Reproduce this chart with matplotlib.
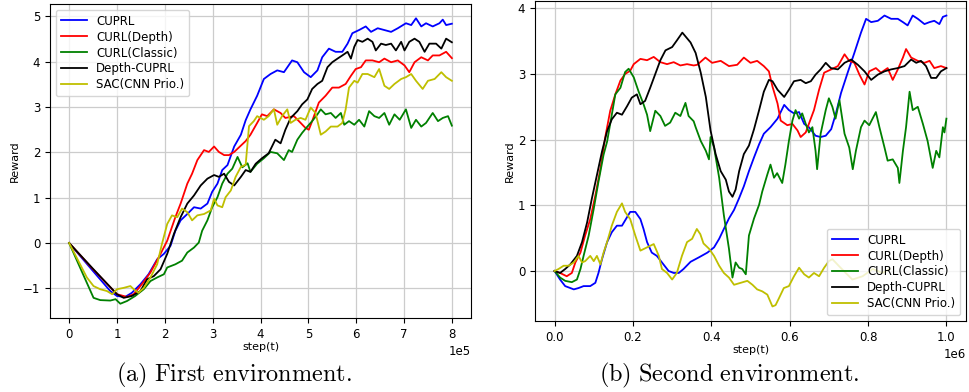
import matplotlib
matplotlib.use("Agg")
import matplotlib.pyplot as plt
import numpy as np

# ---------------- panel (a): first environment, steps in 1e5 ----------------
labels = ["CUPRL", "CURL(Depth)", "CURL(Classic)", "Depth-CUPRL", "SAC(CNN Prio.)"]
colors = ["b", "r", "g", "k", "y"]

a_cuprl_x = [0, 0.5, 0.86, 1.0, 1.17, 1.31, 1.49, 1.66, 1.84, 1.98, 2.12, 2.22, 2.33, 2.47,
             2.61, 2.75, 2.89, 2.99, 3.1, 3.2, 3.31, 3.45, 3.59, 3.69, 3.79, 3.93, 4.07,
             4.21, 4.35, 4.49, 4.66, 4.77, 4.91, 5.05, 5.19, 5.29, 5.43, 5.57, 5.71, 5.82,
             5.92, 6.06, 6.2, 6.31, 6.45, 6.59, 6.73, 6.87, 7.04, 7.15, 7.25, 7.36, 7.46,
             7.6, 7.74, 7.81, 7.88, 8.0]
a_cuprl_y = [0, -0.62, -1.06, -1.17, -1.19, -1.1, -0.91, -0.69, -0.36, -0.24, -0.06, 0.27,
             0.5, 0.64, 0.79, 0.76, 0.87, 1.13, 1.31, 1.61, 1.72, 2.13, 2.39, 2.71, 2.95,
             3.25, 3.62, 3.73, 3.81, 3.77, 4.03, 3.99, 3.77, 3.66, 3.81, 4.1, 4.29, 4.22,
             4.22, 4.4, 4.63, 4.7, 4.78, 4.66, 4.74, 4.7, 4.66, 4.74, 4.85, 4.81, 4.96,
             4.78, 4.85, 4.78, 4.85, 4.93, 4.81, 4.84]

a_depth_x = [0, 0.5, 1.0, 1.21, 1.35, 1.52, 1.7, 1.91, 2.05, 2.22, 2.33, 2.47, 2.57, 2.68,
             2.82, 2.92, 3.03, 3.13, 3.24, 3.34, 3.45, 3.59, 3.69, 3.79, 3.93, 4.03, 4.14,
             4.28, 4.42, 4.52, 4.7, 4.84, 4.94, 5.01, 5.08, 5.22, 5.36, 5.5, 5.64, 5.78,
             5.89, 5.99, 6.1, 6.2, 6.34, 6.48, 6.59, 6.73, 6.87, 7.01, 7.11, 7.22, 7.36,
             7.5, 7.6, 7.74, 7.88, 8.0]
a_depth_y = [0, -0.58, -1.13, -1.19, -1.13, -0.91, -0.65, -0.24, 0.05, 0.57, 0.87, 1.31,
             1.53, 1.83, 2.05, 2.01, 2.13, 2.01, 1.94, 1.94, 2.01, 2.15, 2.25, 2.39, 2.65,
             2.84, 2.8, 2.95, 2.87, 2.76, 2.8, 2.65, 2.54, 2.5, 2.69, 3.1, 3.25, 3.43, 3.43,
             3.51, 3.69, 3.84, 3.88, 4.03, 4.03, 3.99, 4.07, 3.99, 4.03, 3.92, 3.77, 3.99,
             4.1, 4.03, 4.14, 4.14, 4.22, 4.08]

a_classic_x = [0, 0.51, 0.65, 0.86, 0.97, 1.07, 1.21, 1.38, 1.56, 1.7, 1.84, 1.98, 2.05,
               2.22, 2.36, 2.47, 2.61, 2.71, 2.78, 2.89, 2.99, 3.1, 3.2, 3.31, 3.41, 3.52,
               3.62, 3.73, 3.79, 3.93, 4.07, 4.21, 4.35, 4.49, 4.59, 4.66, 4.77, 4.87, 4.98,
               5.08, 5.19, 5.26, 5.36, 5.47, 5.57, 5.68, 5.75, 5.85, 5.96, 6.06, 6.17, 6.27,
               6.38, 6.48, 6.59, 6.69, 6.8, 6.91, 7.04, 7.15, 7.25, 7.36, 7.46, 7.6, 7.71,
               7.81, 7.92, 8.0]
a_classic_y = [0, -1.21, -1.26, -1.27, -1.24, -1.34, -1.28, -1.17, -1.02, -0.84, -0.76,
               -0.69, -0.54, -0.47, -0.39, -0.21, -0.1, 0.01, 0.27, 0.5, 0.79, 1.01, 1.31,
               1.53, 1.64, 1.9, 1.67, 1.76, 1.57, 1.75, 1.87, 2.01, 1.98, 1.83, 2.05, 2.01,
               2.28, 2.43, 2.57, 2.69, 2.84, 2.95, 2.84, 2.87, 2.76, 2.87, 2.61, 2.69, 2.61,
               2.72, 2.57, 2.91, 2.8, 2.76, 2.87, 2.61, 2.84, 2.72, 2.95, 2.54, 2.72, 2.57,
               2.65, 2.87, 2.69, 2.76, 2.8, 2.59]

a_dcuprl_x = [0, 0.5, 1.0, 1.14, 1.31, 1.49, 1.63, 1.77, 1.91, 2.05, 2.19, 2.33, 2.47,
              2.61, 2.75, 2.89, 3.03, 3.13, 3.24, 3.34, 3.45, 3.59, 3.69, 3.79, 3.9, 4.03,
              4.17, 4.31, 4.42, 4.52, 4.63, 4.77, 4.87, 4.98, 5.08, 5.19, 5.29, 5.4, 5.5,
              5.61, 5.71, 5.82, 5.89, 5.96, 6.03, 6.13, 6.24, 6.34, 6.41, 6.52, 6.62, 6.73,
              6.83, 6.94, 7.01, 7.11, 7.22, 7.32, 7.43, 7.53, 7.67, 7.78, 7.88, 8.0]
a_dcuprl_y = [0, -0.57, -1.13, -1.21, -1.17, -1.06, -0.8, -0.73, -0.58, -0.24, 0.2, 0.57,
              0.87, 1.05, 1.27, 1.42, 1.5, 1.46, 1.53, 1.35, 1.27, 1.46, 1.61, 1.57, 1.75,
              1.87, 1.98, 2.28, 2.2, 2.5, 2.76, 2.91, 3.06, 3.17, 3.4, 3.51, 3.58, 3.88,
              3.99, 4.07, 4.14, 4.22, 4.07, 4.33, 4.48, 4.44, 4.51, 4.44, 4.25, 4.4, 4.37,
              4.4, 4.25, 4.44, 4.25, 4.44, 4.51, 4.44, 4.22, 4.4, 4.4, 4.29, 4.51, 4.43]

a_sac_x = [0, 0.37, 0.51, 0.65, 0.79, 0.9, 1.0, 1.14, 1.28, 1.35, 1.45, 1.56, 1.7, 1.84,
           1.94, 2.05, 2.15, 2.26, 2.36, 2.47, 2.57, 2.68, 2.82, 2.96, 3.03, 3.1, 3.2, 3.27,
           3.38, 3.48, 3.59, 3.69, 3.76, 3.86, 3.93, 4.07, 4.17, 4.28, 4.35, 4.45, 4.56,
           4.63, 4.73, 4.84, 4.94, 5.05, 5.15, 5.26, 5.36, 5.47, 5.61, 5.71, 5.78, 5.85,
           5.96, 6.03, 6.13, 6.24, 6.38, 6.48, 6.59, 6.69, 6.8, 6.94, 7.04, 7.15, 7.25,
           7.39, 7.5, 7.64, 7.78, 7.88, 8.0]
a_sac_y = [0, -0.76, -0.95, -1.02, -1.06, -1.13, -1.02, -0.99, -0.95, -1.02, -1.1, -0.99,
           -0.76, -0.47, -0.02, 0.42, 0.61, 0.57, 0.76, 0.68, 0.5, 0.61, 0.64, 0.72, 0.98,
           0.83, 0.79, 1.01, 1.16, 1.46, 1.68, 1.73, 2.58, 2.69, 2.8, 2.72, 2.8, 2.95, 2.61,
           2.8, 2.95, 2.65, 2.72, 2.76, 2.72, 2.99, 2.87, 2.39, 2.46, 2.57, 2.57, 2.65,
           2.95, 3.43, 3.58, 3.54, 3.73, 3.73, 3.66, 3.84, 3.47, 3.4, 3.51, 3.62, 3.66,
           3.73, 3.58, 3.4, 3.58, 3.62, 3.77, 3.66, 3.58]

# ---------------- panel (b): second environment, steps in 1e6 ----------------
b_cuprl_x = [0, 0.014, 0.027, 0.049, 0.061, 0.074, 0.091, 0.104, 0.112, 0.121, 0.134, 0.146,
             0.159, 0.172, 0.18, 0.193, 0.206, 0.219, 0.227, 0.236, 0.248, 0.261, 0.274,
             0.291, 0.304, 0.317, 0.329, 0.347, 0.369, 0.39, 0.407, 0.42, 0.432, 0.445,
             0.458, 0.471, 0.483, 0.496, 0.509, 0.522, 0.534, 0.551, 0.569, 0.586, 0.598,
             0.611, 0.624, 0.637, 0.649, 0.666, 0.679, 0.692, 0.706, 0.718, 0.731, 0.748,
             0.765, 0.782, 0.795, 0.808, 0.825, 0.842, 0.859, 0.876, 0.889, 0.901, 0.914,
             0.927, 0.944, 0.957, 0.969, 0.982, 0.991, 1.0]
b_cuprl_y = [0, -0.13, -0.23, -0.28, -0.26, -0.23, -0.23, -0.18, -0.03, 0.18, 0.44, 0.59,
             0.69, 0.69, 0.77, 0.9, 0.9, 0.79, 0.64, 0.44, 0.28, 0.23, 0.13, 0.0, -0.03,
             -0.03, 0.03, 0.14, 0.21, 0.28, 0.36, 0.49, 0.64, 0.8, 0.93, 1.11, 1.29, 1.52,
             1.73, 1.93, 2.09, 2.19, 2.32, 2.53, 2.45, 2.4, 2.42, 2.24, 2.19, 2.06, 2.04,
             2.06, 2.16, 2.4, 2.71, 3.02, 3.32, 3.63, 3.84, 3.79, 3.81, 3.89, 3.84, 3.84,
             3.79, 3.74, 3.89, 3.84, 3.76, 3.79, 3.81, 3.76, 3.87, 3.89]

b_depth_x = [0, 0.014, 0.031, 0.044, 0.053, 0.066, 0.078, 0.091, 0.104, 0.117, 0.129,
             0.142, 0.155, 0.168, 0.18, 0.193, 0.202, 0.219, 0.236, 0.253, 0.27, 0.287,
             0.304, 0.321, 0.338, 0.355, 0.364, 0.385, 0.402, 0.424, 0.445, 0.466, 0.483,
             0.5, 0.517, 0.534, 0.547, 0.556, 0.569, 0.577, 0.594, 0.607, 0.62, 0.628,
             0.641, 0.649, 0.662, 0.675, 0.688, 0.706, 0.723, 0.74, 0.752, 0.765, 0.778,
             0.791, 0.803, 0.82, 0.833, 0.85, 0.863, 0.876, 0.889, 0.897, 0.91, 0.927,
             0.944, 0.957, 0.969, 0.986, 1.0]
b_depth_y = [0, -0.03, -0.08, -0.03, 0.13, 0.28, 0.54, 0.79, 1.15, 1.56, 2.03, 2.44, 2.69,
             2.9, 3.0, 3.05, 3.15, 3.23, 3.21, 3.26, 3.18, 3.15, 3.18, 3.13, 3.15, 3.13,
             3.14, 3.25, 3.17, 3.2, 3.12, 3.14, 3.25, 3.17, 3.2, 3.12, 3.04, 2.81, 2.55,
             2.29, 2.22, 2.24, 2.14, 2.04, 2.11, 2.24, 2.45, 2.76, 3.02, 3.07, 3.12, 3.3,
             3.2, 3.17, 2.99, 2.84, 3.04, 3.09, 3.02, 3.09, 2.91, 3.07, 3.25, 3.38, 3.25,
             3.2, 3.17, 3.2, 3.09, 3.12, 3.09]

b_classic_x = [0, 0.014, 0.027, 0.044, 0.057, 0.066, 0.074, 0.087, 0.1, 0.112, 0.125, 0.134,
               0.146, 0.155, 0.168, 0.18, 0.189, 0.202, 0.214, 0.227, 0.236, 0.244, 0.257,
               0.27, 0.282, 0.295, 0.308, 0.321, 0.334, 0.342, 0.355, 0.36, 0.373, 0.386,
               0.394, 0.398, 0.407, 0.42, 0.432, 0.445, 0.454, 0.462, 0.471, 0.479, 0.488,
               0.496, 0.509, 0.522, 0.53, 0.543, 0.551, 0.56, 0.568, 0.581, 0.589, 0.598,
               0.607, 0.615, 0.624, 0.632, 0.641, 0.649, 0.658, 0.666, 0.67, 0.679, 0.692,
               0.7, 0.709, 0.717, 0.727, 0.74, 0.752, 0.761, 0.769, 0.782, 0.791, 0.803,
               0.82, 0.829, 0.842, 0.85, 0.863, 0.876, 0.88, 0.889, 0.897, 0.906, 0.914,
               0.927, 0.94, 0.952, 0.965, 0.974, 0.982, 0.991, 0.995, 1.0]
b_classic_y = [0, -0.1, -0.15, -0.17, -0.13, 0.03, 0.23, 0.54, 0.95, 1.36, 1.77, 1.97, 2.38,
               2.69, 2.79, 3.03, 3.08, 2.95, 2.74, 2.54, 2.38, 2.13, 2.44, 2.36, 2.21, 2.26,
               2.41, 2.36, 2.56, 2.36, 2.28, 2.19, 1.98, 1.83, 1.7, 2.04, 1.88, 1.42, 0.85,
               0.34, -0.1, 0.13, 0.05, 0.03, -0.05, 0.54, 0.8, 1.01, 1.21, 1.47, 1.62, 1.42,
               1.49, 1.34, 1.62, 1.98, 2.29, 2.45, 2.32, 2.4, 2.24, 2.11, 2.19, 1.83, 1.55,
               2.09, 2.45, 2.63, 2.5, 2.32, 2.6, 2.09, 1.88, 1.55, 1.83, 2.19, 2.29, 2.22,
               2.42, 2.19, 1.88, 1.68, 1.7, 1.57, 1.34, 1.83, 2.19, 2.73, 2.45, 2.5, 2.24,
               1.98, 1.57, 1.83, 1.73, 2.19, 2.11, 2.32]

b_dcuprl_x = [0, 0.014, 0.027, 0.04, 0.057, 0.07, 0.083, 0.095, 0.108, 0.121, 0.134, 0.146,
              0.159, 0.172, 0.185, 0.197, 0.21, 0.219, 0.231, 0.244, 0.257, 0.27, 0.283,
              0.3, 0.312, 0.326, 0.347, 0.36, 0.373, 0.386, 0.398, 0.411, 0.424, 0.437,
              0.445, 0.454, 0.462, 0.471, 0.483, 0.496, 0.509, 0.522, 0.534, 0.547, 0.556,
              0.569, 0.586, 0.598, 0.611, 0.628, 0.641, 0.654, 0.666, 0.679, 0.692, 0.705,
              0.723, 0.74, 0.757, 0.774, 0.791, 0.808, 0.825, 0.842, 0.859, 0.876, 0.893,
              0.91, 0.923, 0.935, 0.948, 0.961, 0.974, 0.986, 1.0]
b_dcuprl_y = [0, -0.03, 0.03, 0.1, 0.23, 0.44, 0.74, 1.1, 1.46, 1.82, 2.13, 2.31, 2.41,
              2.38, 2.51, 2.64, 2.69, 2.54, 2.59, 2.79, 3.0, 3.21, 3.36, 3.41, 3.51, 3.63,
              3.48, 3.32, 3.02, 2.65, 2.14, 1.78, 1.52, 1.39, 1.21, 1.13, 1.24, 1.52, 1.78,
              1.91, 2.16, 2.45, 2.73, 2.91, 2.89, 2.76, 2.65, 2.76, 2.89, 2.91, 2.86, 2.89,
              2.99, 3.07, 3.17, 3.09, 3.07, 3.17, 3.22, 3.14, 3.04, 2.91, 2.99, 3.04, 3.07,
              3.09, 3.12, 3.22, 3.17, 3.2, 3.12, 2.94, 2.94, 3.04, 3.09]

b_sac_x = [0, 0.01, 0.023, 0.036, 0.049, 0.061, 0.07, 0.078, 0.091, 0.1, 0.108, 0.117, 0.125,
           0.134, 0.146, 0.159, 0.172, 0.18, 0.193, 0.206, 0.219, 0.236, 0.253, 0.266,
           0.274, 0.287, 0.3, 0.312, 0.325, 0.338, 0.351, 0.363, 0.372, 0.38, 0.394, 0.407,
           0.42, 0.432, 0.445, 0.458, 0.475, 0.492, 0.505, 0.517, 0.53, 0.543, 0.556,
           0.564, 0.573, 0.585, 0.598, 0.611, 0.624, 0.637, 0.649, 0.662, 0.675, 0.688,
           0.7, 0.709, 0.725, 0.743, 0.76, 0.786, 0.812, 0.837, 0.855]
b_sac_y = [0, 0.03, 0.08, 0.08, 0.13, 0.23, 0.13, 0.15, 0.23, 0.15, 0.23, 0.1, 0.28, 0.44,
           0.69, 0.9, 1.03, 0.9, 0.79, 0.54, 0.31, 0.36, 0.41, 0.23, 0.03, -0.03, -0.13,
           -0.03, 0.23, 0.44, 0.49, 0.64, 0.56, 0.42, 0.34, 0.23, 0.08, -0.03, -0.1, -0.21,
           -0.18, -0.15, -0.21, -0.28, -0.31, -0.36, -0.54, -0.52, -0.41, -0.26, -0.23,
           -0.08, 0.05, -0.05, -0.1, -0.03, -0.08, 0.05, 0.15, 0.18, 0.08, -0.03, -0.13,
           -0.08, 0.03, -0.03, 0.03]

panel_a = [(a_cuprl_x, a_cuprl_y), (a_depth_x, a_depth_y), (a_classic_x, a_classic_y),
           (a_dcuprl_x, a_dcuprl_y), (a_sac_x, a_sac_y)]
panel_b = [(b_cuprl_x, b_cuprl_y), (b_depth_x, b_depth_y), (b_classic_x, b_classic_y),
           (b_dcuprl_x, b_dcuprl_y), (b_sac_x, b_sac_y)]

plt.rcParams["mathtext.fontset"] = "cm"

fig = plt.figure(figsize=(9.69, 3.92), dpi=100)
W, H = 969, 392
ax1 = fig.add_axes([50 / W, 1 - 318 / H, 421 / W, 314 / H])
ax2 = fig.add_axes([535 / W, 1 - 321 / H, 431 / W, 320 / H])


def draw(ax, series, scale, legend_loc):
    for (xs, ys), lab, col in zip(series, labels, colors):
        ax.plot(np.array(xs) * scale, ys, color=col, lw=1.3, label=lab)
    ax.grid(True, color="#cccccc", lw=0.9)
    ax.set_axisbelow(True)
    ax.ticklabel_format(axis="x", style="sci", scilimits=(0, 0))
    ax.tick_params(labelsize=8.5)
    ax.xaxis.get_offset_text().set_fontsize(8.5)
    ax.set_xlabel("step(t)", fontsize=8, labelpad=1)
    ax.set_ylabel("Reward", fontsize=8, labelpad=2)
    ax.legend(loc=legend_loc, fontsize=8.5, handlelength=2.2, labelspacing=0.25,
              borderaxespad=0.5)


draw(ax1, panel_a, 1e5, "upper left")
draw(ax2, panel_b, 1e6, "lower right")
ax1.set_yticks([-1, 0, 1, 2, 3, 4, 5])
ax2.set_yticks([0, 1, 2, 3, 4])

fig.text(234 / W, 1 - 375 / H, r"$\mathrm{(a)\ First\ environment.}$",
         ha="center", va="center", fontsize=17.5)
fig.text(729 / W, 1 - 375 / H, r"$\mathrm{(b)\ Second\ environment.}$",
         ha="center", va="center", fontsize=17.5)

fig.savefig("out.png", dpi=100)
